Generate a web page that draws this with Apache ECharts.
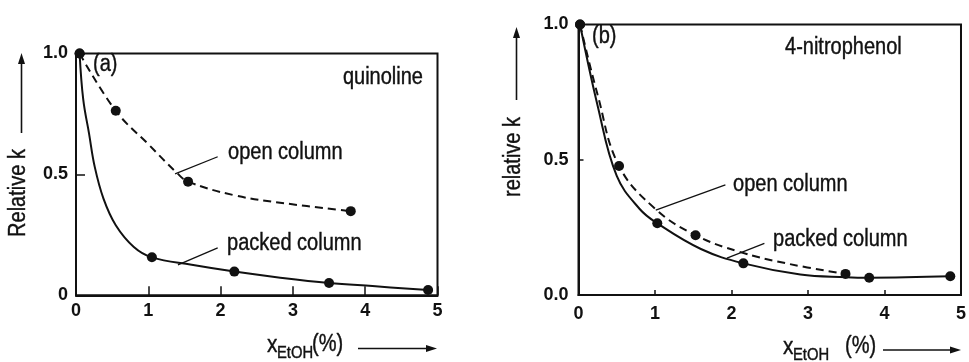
<!DOCTYPE html>
<html>
<head>
<meta charset="utf-8">
<script src="https://cdn.jsdelivr.net/npm/echarts@6/dist/echarts.min.js"></script>
<style>
html,body{margin:0;padding:0;background:#fff;}
#c{width:969px;height:362px;}
</style>
</head>
<body>
<div id="c"></div>
<script>
// ---- Data ----
var xTicks = [0, 1, 2, 3, 4, 5];
var yTicksA = ['0', '0.5', '1.0'];
var yTicksB = ['0.0', '0.5', '1.0'];

// (a) quinoline: measured points
var aOpenX = [0.05, 0.55, 1.55, 3.80];
var aOpenY = [1.00, 0.763, 0.47, 0.348];
var aPackedX = [0.05, 1.05, 2.19, 3.50, 4.87];
var aPackedY = [1.00, 0.157, 0.098, 0.051, 0.022];
// (a) drawn curves
var aOpenCurveX = [0.05, 0.55, 1.00, 1.40, 1.55, 2.20, 2.90, 3.80];
var aOpenCurveY = [1.00, 0.763, 0.625, 0.505, 0.47, 0.413, 0.38, 0.348];
var aPackedCurveX = [0.05, 0.10, 0.18, 0.26, 0.38, 0.55, 0.80, 1.05, 1.60, 2.19, 2.80, 3.50, 4.10, 4.87];
var aPackedCurveY = [1.00, 0.81, 0.67, 0.53, 0.40, 0.29, 0.20, 0.157, 0.126, 0.098, 0.074, 0.051, 0.038, 0.022];

// (b) 4-nitrophenol: measured points
var bOpenX = [0.02, 0.53, 1.53, 3.49];
var bOpenY = [1.00, 0.477, 0.221, 0.078];
var bPackedX = [0.02, 1.03, 2.155, 3.80, 4.86];
var bPackedY = [1.00, 0.265, 0.117, 0.064, 0.069];
// (b) drawn curves
var bOpenCurveX = [0.02, 0.25, 0.53, 1.01, 1.53, 2.10, 2.75, 3.49];
var bOpenCurveY = [1.00, 0.74, 0.477, 0.317, 0.221, 0.16, 0.115, 0.078];
var bPackedCurveX = [0.02, 0.25, 0.50, 0.80, 1.03, 1.60, 2.155, 2.90, 3.50, 3.80, 4.86];
var bPackedCurveY = [1.00, 0.70, 0.44, 0.318, 0.265, 0.17, 0.117, 0.076, 0.066, 0.064, 0.069];

function zip(xs, ys){ return xs.map(function(x,i){ return [x, ys[i]]; }); }

var FONT = '"Liberation Sans", Arial, sans-serif';
var BLACK = '#111';
var SX = 0.87;

function xAxisDef(gi, tickLen, labelMargin){
  return {
    type:'value', gridIndex:gi, min:0, max:5, interval:1,
    axisLine:{show:true, lineStyle:{color:BLACK, width:2}},
    axisTick:{show:true, inside:true, length:tickLen, lineStyle:{color:BLACK, width:1.5}},
    axisLabel:{color:BLACK, fontFamily:FONT, fontSize:18, fontWeight:'bold', margin:labelMargin,
      formatter:function(v){ return xTicks.indexOf(v) >= 0 ? String(v) : ''; }},
    splitLine:{show:false}
  };
}
function yAxisDef(gi, labels, tickLen, labelMargin){
  return {
    type:'value', gridIndex:gi, min:0, max:1, interval:0.5,
    axisLine:{show:true, lineStyle:{color:BLACK, width:2}},
    axisTick:{show:true, inside:true, length:tickLen, lineStyle:{color:BLACK, width:1.5}},
    axisLabel:{color:BLACK, fontFamily:FONT, fontSize:18, fontWeight:'bold', margin:labelMargin,
      formatter:function(v){ return labels[Math.round(v*2)]; }},
    splitLine:{show:false}
  };
}
function curve(gi, data, dashed){
  return {
    type:'line', xAxisIndex:gi, yAxisIndex:gi, data:data, smooth:0.4,
    showSymbol:false, silent:true, z:3,
    lineStyle:{color:BLACK, width:2, type: dashed ? [8,5] : 'solid'}
  };
}
function dots(gi, data, leaders){
  var s = {
    type:'scatter', xAxisIndex:gi, yAxisIndex:gi, data:data, symbol:'circle', symbolSize:10,
    itemStyle:{color:BLACK, opacity:1}, silent:true, z:5
  };
  if (leaders) {
    s.markLine = {
      silent:true, symbol:['none','none'], label:{show:false},
      lineStyle:{color:BLACK, width:1.3, type:'solid', opacity:1},
      data: leaders.map(function(l){ return [{coord:l[0]}, {coord:l[1]}]; })
    };
  }
  return s;
}

function txt(x, y, s, opts){
  opts = opts || {};
  return {
    type:'text', x:x, y:y, rotation: opts.rot || 0, scaleX: SX, silent:true, z:10,
    style:{text:s, fill:BLACK, stroke:BLACK, lineWidth:0.4,
      font: (opts.weight||'normal') + ' ' + (opts.size||23) + 'px ' + FONT,
      align: opts.align || 'left', verticalAlign: opts.va || 'middle'}
  };
}
function arrow(x1, y1, x2, y2){
  var dx = x2-x1, dy = y2-y1, L = Math.sqrt(dx*dx+dy*dy), ux = dx/L, uy = dy/L;
  var hl = 11, hw = 3.5;
  var bx = x2 - ux*hl, by = y2 - uy*hl;
  return [
    {type:'line', silent:true, shape:{x1:x1, y1:y1, x2:bx, y2:by}, style:{stroke:BLACK, lineWidth:1.6}},
    {type:'polygon', silent:true, shape:{points:[[x2,y2],[bx - uy*hw, by + ux*hw],[bx + uy*hw, by - ux*hw]]}, style:{fill:BLACK}}
  ];
}

var chart = echarts.init(document.getElementById('c'), null, {renderer:'canvas'});
var graphics = [].concat(
  [txt(93, 65, '(a)'), txt(423, 78, 'quinoline', {align:'right'}),
   txt(228, 153, 'open column'), txt(227, 244, 'packed column'),
   txt(592, 37, '(b)'), txt(785, 48, '4-nitrophenol'),
   txt(733, 185, 'open column'), txt(773, 240, 'packed column'),
   txt(19, 193, 'Relative k', {rot:Math.PI/2, align:'center'}),
   txt(514, 157, 'relative k', {rot:Math.PI/2, align:'center'}),
   // x-axis titles (x with subscript EtOH)
   txt(267, 345, 'x', {size:24}), txt(277, 353, 'EtOH', {size:17}), txt(312, 345, '(%)', {size:23}),
   txt(783, 347, 'x', {size:24}), txt(793, 355, 'EtOH', {size:17}), txt(845, 347, '(%)', {size:23})
  ],
  arrow(21.5, 133, 21.5, 53),
  arrow(516.5, 100, 516.5, 27),
  arrow(358, 348.5, 437, 348.5),
  arrow(883, 350, 961, 350)
);

chart.setOption({
  animation:false,
  backgroundColor:'#fff',
  grid:[
    {left:76, top:53.5, width:361.5, height:241.8, show:true, borderColor:BLACK, borderWidth:2, backgroundColor:'transparent'},
    {left:578.5, top:24.5, width:386.5, height:270.5, show:true, borderColor:BLACK, borderWidth:2, backgroundColor:'transparent'}
  ],
  xAxis:[ xAxisDef(0, 9, 7), xAxisDef(1, 5, 10) ],
  yAxis:[ yAxisDef(0, yTicksA, 9, 8), yAxisDef(1, yTicksB, 5, 10) ],
  series:[
    curve(0, zip(aOpenCurveX, aOpenCurveY), true),
    curve(0, zip(aPackedCurveX, aPackedCurveY), false),
    dots(0, zip(aOpenX, aOpenY), [[[1.96,0.573],[1.37,0.502]], [[1.96,0.196],[1.41,0.126]]]),
    dots(0, zip(aPackedX, aPackedY)),
    curve(1, zip(bOpenCurveX, bOpenCurveY), true),
    curve(1, zip(bPackedCurveX, bPackedCurveY), false),
    dots(1, zip(bOpenX, bOpenY), [[[1.92,0.407],[1.01,0.314]], [[2.43,0.191],[1.94,0.136]]]),
    dots(1, zip(bPackedX, bPackedY))
  ],
  graphic: graphics
});
</script>
</body>
</html>
